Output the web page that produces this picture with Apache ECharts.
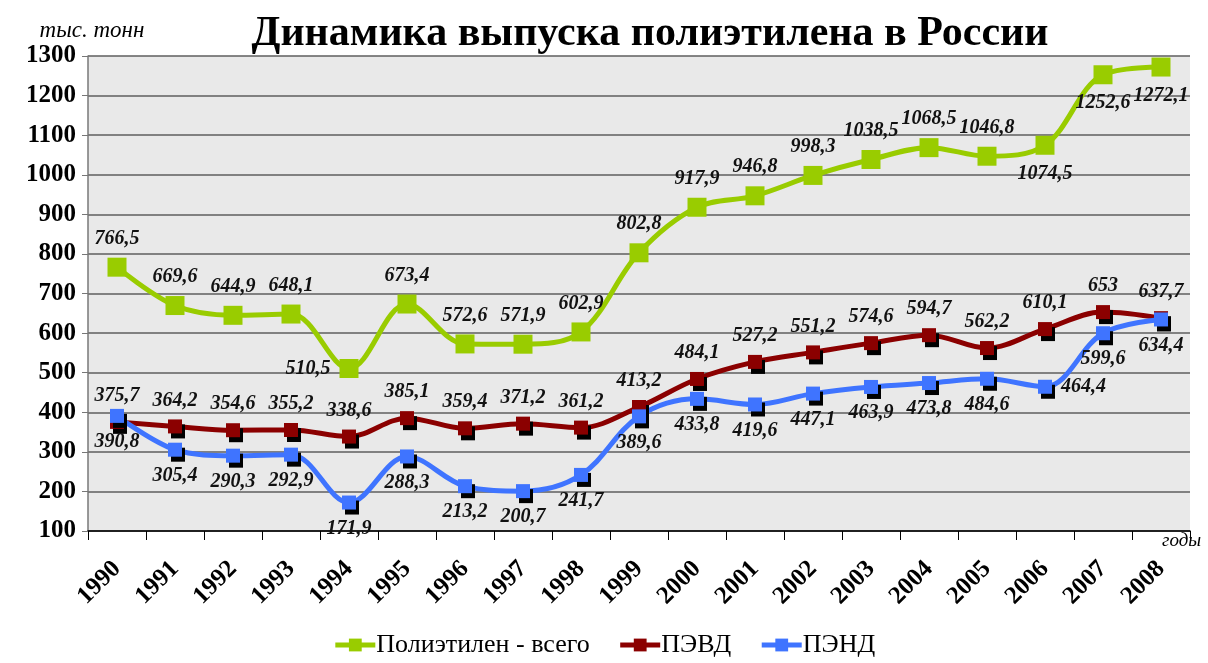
<!DOCTYPE html>
<html>
<head>
<meta charset="utf-8">
<style>
  html, body { margin: 0; padding: 0; background: #fff; }
  #chart { width: 1208px; height: 663px; }
</style>
<script src="https://cdn.jsdelivr.net/npm/echarts@6/dist/echarts.min.js"></script>
</head>
<body>
<div id="chart"></div>
<script>
const years = ['1990', '1991', '1992', '1993', '1994', '1995', '1996', '1997', '1998', '1999',
  '2000', '2001', '2002', '2003', '2004', '2005', '2006', '2007', '2008']
const peTotal = [766.5, 669.6, 644.9, 648.1, 510.5, 673.4, 572.6, 571.9, 602.9, 802.8,
  917.9, 946.8, 998.3, 1038.5, 1068.5, 1046.8, 1074.5, 1252.6, 1272.1]
const pevd = [375.7, 364.2, 354.6, 355.2, 338.6, 385.1, 359.4, 371.2, 361.2, 413.2,
  484.1, 527.2, 551.2, 574.6, 594.7, 562.2, 610.1, 653, 637.7]
const pend = [390.8, 305.4, 290.3, 292.9, 171.9, 288.3, 213.2, 200.7, 241.7, 389.6,
  433.8, 419.6, 447.1, 463.9, 473.8, 484.6, 464.4, 599.6, 634.4]

const serif = '"Liberation Serif", "DejaVu Serif", serif'
const fmt = p => String(p.value).replace('.', ',')

// label placement tweaks per point
const totalPos = { 4: 'left', 16: 'bottom', 17: 'bottom', 18: 'bottom' }
const pendPos = { 16: 'right' }

function withLabels (arr, def, over) {
  return arr.map((v, i) => ({ value: v, label: { position: over[i] || def } }))
}

const labelStyle = {
  show: true,
  formatter: fmt,
  fontFamily: serif,
  fontWeight: 'bold',
  fontStyle: 'italic',
  fontSize: 20,
  color: '#111',
  distance: 9
}

const chart = echarts.init(document.getElementById('chart'))
chart.setOption({
  animation: false,
  title: {
    text: 'Динамика выпуска полиэтилена в России',
    left: 645,
    textAlign: 'center',
    top: 8,
    textStyle: { fontFamily: serif, fontWeight: 'bold', fontSize: 42, color: '#000' }
  },
  grid: { left: 88, right: 18, top: 56, bottom: 132, show: true, backgroundColor: '#e9e9e9', borderWidth: 0 },
  legend: {
    bottom: 0,
    left: 'center',
    itemWidth: 40,
    itemHeight: 16,
    itemGap: 28,
    lineStyle: { width: 5 },
    textStyle: { fontFamily: serif, fontSize: 26, color: '#000', padding: [0, 0, 0, -4] },
    data: ['Полиэтилен - всего', 'ПЭВД', 'ПЭНД']
  },
  xAxis: {
    type: 'category',
    data: years,
    boundaryGap: true,
    axisLine: { lineStyle: { color: '#000', width: 1.5 } },
    axisTick: { show: true, length: 9, lineStyle: { color: '#000' } },
    axisLabel: {
      rotate: 45,
      margin: 34,
      fontFamily: serif,
      fontWeight: 'bold',
      fontSize: 25,
      color: '#000'
    },
    name: 'годы',
    nameLocation: 'end',
    nameGap: -28,
    nameTextStyle: { fontFamily: serif, fontStyle: 'italic', fontSize: 19, color: '#000', verticalAlign: 'top' }
  },
  yAxis: {
    type: 'value',
    min: 100,
    max: 1300,
    interval: 100,
    name: 'тыс. тонн',
    nameLocation: 'end',
    nameGap: 14,
    nameTextStyle: { fontFamily: serif, fontStyle: 'italic', fontSize: 23, color: '#000', align: 'center', padding: [0, 0, 0, 8] },
    axisLine: { show: true, lineStyle: { color: '#777', width: 1.5 } },
    axisTick: { show: true, length: 6, lineStyle: { color: '#777' } },
    axisLabel: { formatter: v => String(v), fontFamily: serif, fontWeight: 'bold', fontSize: 25, color: '#000', margin: 12 },
    splitLine: { lineStyle: { color: '#5e5e5e', width: 1.5 } }
  },
  series: [
    {
      name: 'Полиэтилен - всего',
      type: 'line',
      smooth: 0.35,
      data: withLabels(peTotal, 'top', totalPos),
      symbol: 'rect',
      symbolSize: 19,
      lineStyle: { color: '#99cc00', width: 5 },
      itemStyle: { color: '#99cc00' },
      label: labelStyle,
      z: 3
    },
    {
      name: 'ПЭВД',
      type: 'line',
      smooth: 0.35,
      data: withLabels(pevd, 'top', {}),
      symbol: 'rect',
      symbolSize: 14,
      lineStyle: { color: '#8b0000', width: 5 },
      itemStyle: { color: '#8b0000', shadowColor: '#000', shadowOffsetX: 3, shadowOffsetY: 5, shadowBlur: 0 },
      label: labelStyle,
      z: 2
    },
    {
      name: 'ПЭНД',
      type: 'line',
      smooth: 0.35,
      data: withLabels(pend, 'bottom', pendPos),
      symbol: 'rect',
      symbolSize: 14,
      lineStyle: { color: '#3f74ff', width: 5 },
      itemStyle: { color: '#3f74ff', shadowColor: '#000', shadowOffsetX: 3, shadowOffsetY: 5, shadowBlur: 0 },
      label: labelStyle,
      z: 2
    }
  ]
})
</script>
</body>
</html>
